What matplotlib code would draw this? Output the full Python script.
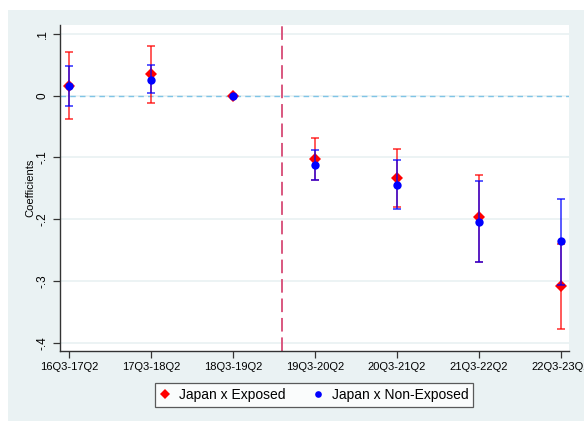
import numpy as np
import matplotlib.pyplot as plt
from matplotlib.patches import Rectangle

plt.rcParams['font.family'] = ['Liberation Sans', 'DejaVu Sans']

# periods on the x axis
periods = ['16Q3-17Q2', '17Q3-18Q2', '18Q3-19Q2', '19Q3-20Q2',
           '20Q3-21Q2', '21Q3-22Q2', '22Q3-23Q2']

# Japan x Exposed: coefficient and CI bounds
exp_coef = [0.016, 0.035, 0.0, -0.102, -0.133, -0.197, -0.309]
exp_lo = [-0.037, -0.012, 0.0, -0.136, -0.181, -0.269, -0.378]
exp_hi = [0.071, 0.081, 0.0, -0.068, -0.086, -0.128, -0.240]

# Japan x Non-Exposed: coefficient and CI bounds
non_coef = [0.016, 0.026, 0.0, -0.112, -0.144, -0.204, -0.236]
non_lo = [-0.017, 0.004, 0.0, -0.136, -0.183, -0.269, -0.306]
non_hi = [0.048, 0.049, 0.0, -0.088, -0.104, -0.138, -0.167]

yticks = [0.1, 0.0, -0.1, -0.2, -0.3, -0.4]
ytick_labels = ['.1', '0', '-.1', '-.2', '-.3', '-.4']

bg = '#EAF2F3'

fig = plt.figure(figsize=(5.84, 4.21), dpi=100, facecolor='white')
fig.patches.append(Rectangle((8 / 584, 0), 1, 1 - 10 / 421, transform=fig.transFigure,
                             facecolor=bg, edgecolor='none', zorder=-10))

ax = fig.add_axes([60 / 584, 1 - 351 / 421, 509 / 584, 326 / 421])
ax.set_facecolor('white')

x = np.arange(1, len(periods) + 1)

def draw(coef, lo, hi, color, marker, ms, z):
    coef = np.array(coef)
    err = np.vstack([coef - np.array(lo), np.array(hi) - coef])
    has_ci = (err.sum(axis=0) > 0)
    ax.errorbar(x[has_ci], coef[has_ci], yerr=err[:, has_ci], fmt='none',
                ecolor=color, elinewidth=1.3, capsize=3.2, capthick=1.3,
                alpha=0.7, zorder=z)
    return ax.plot(x, coef, linestyle='none', marker=marker, color=color,
                   markersize=ms, markeredgewidth=0, zorder=z + 0.5)[0]

h1 = draw(exp_coef, exp_lo, exp_hi, '#FF0000', 'D', 6.3, 3)
h2 = draw(non_coef, non_lo, non_hi, '#0000FF', 'o', 6.0, 4)

ax.axhline(0, color='#7FC4E6', linestyle=(0, (4, 3)), linewidth=1.0, zorder=2)
ax.axvline(3.6, color='#D9577F', linestyle=(0, (7, 3)), linewidth=1.4, zorder=2)

ax.set_xlim(0.89, 7.1)
ax.set_ylim(-0.4135, 0.1145)
ax.set_yticks(yticks)
ax.set_yticklabels(ytick_labels, rotation=90, va='center', fontsize=8.5)
ax.set_xticks(x)
ax.set_xticklabels(periods, fontsize=8)
ax.tick_params(length=5, width=0.9, color='#333333', pad=3)
for y in yticks:
    ax.axhline(y, color=bg, linewidth=1.3, zorder=1)

for s in ['top', 'right']:
    ax.spines[s].set_visible(False)
for s in ['left', 'bottom']:
    ax.spines[s].set_color('#333333')
    ax.spines[s].set_linewidth(1.0)

ax.set_ylabel('Coefficients', fontsize=8, labelpad=1)

leg = fig.legend([h1, h2], ['Japan x Exposed', 'Japan x Non-Exposed'],
                 loc='center', bbox_to_anchor=(314 / 584, 1 - 395 / 421),
                 ncol=2, fontsize=10, frameon=True, fancybox=False,
                 edgecolor='#333333', handlelength=0.8, handletextpad=0.6,
                 columnspacing=1.9, borderpad=0.35, markerscale=0.8)
leg.get_frame().set_linewidth(0.9)

fig.savefig('out.png', dpi=100, facecolor=fig.get_facecolor())
